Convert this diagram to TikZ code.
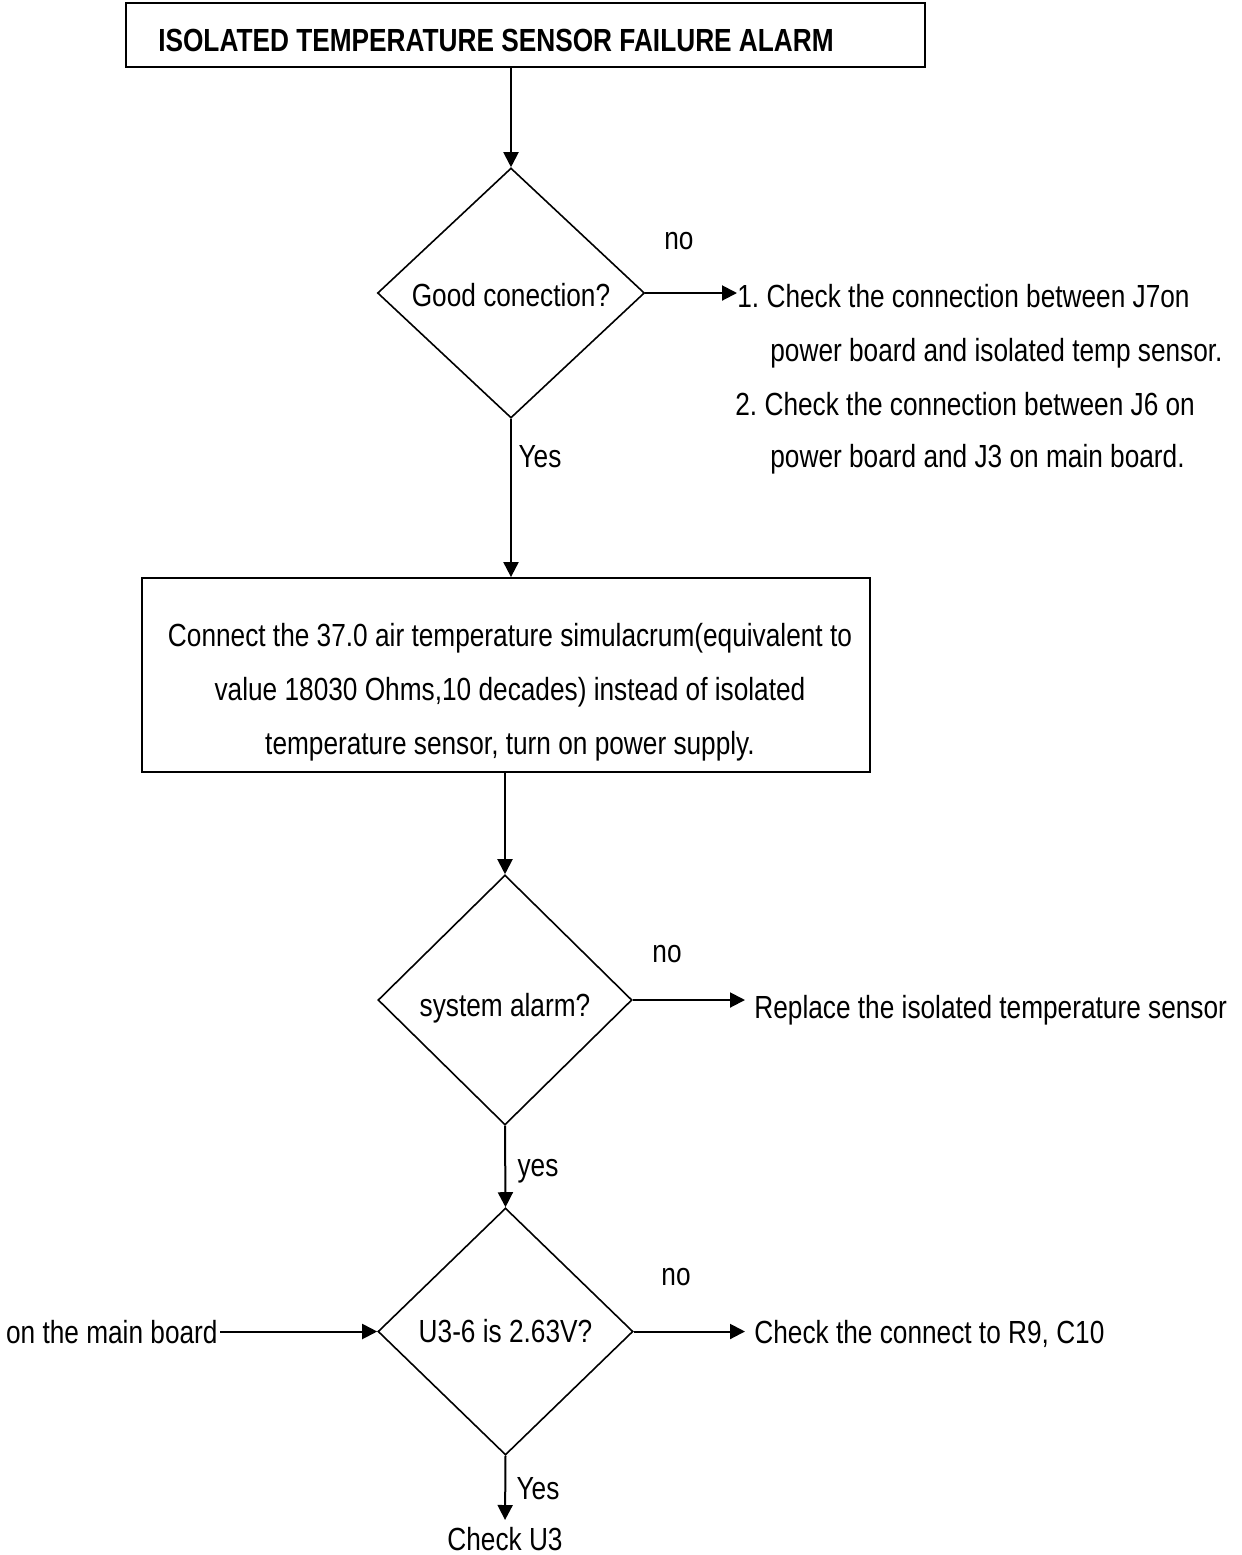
\documentclass[tikz,border=0pt]{standalone}
\usepackage{fontspec}
\setmainfont{Liberation Sans}[FakeStretch=0.82]
\usetikzlibrary{shapes.geometric,arrows.meta}
\frenchspacing
\begin{document}
\begin{tikzpicture}[x=0.5pt,y=-0.5pt,
  every node/.style={font=\fontsize{16}{27}\selectfont},
  arr/.style={line width=1pt,-{Triangle[length=7.5pt,width=7.5pt]}},
  boxstyle/.style={draw,line width=0.9pt,rectangle,inner sep=0pt},
  decision/.style={draw,line width=0.8pt,diamond,inner sep=0pt},
  lbl/.style={inner sep=0pt,anchor=base}]
\useasboundingbox (0,0) rectangle (1242,1555);
\fill[white] (0,0) rectangle (1242,1555);

% title
\node[boxstyle,minimum width=399.5pt,minimum height=32pt] (title) at (525.5,35) {};
\node[inner sep=0pt] (titletext) at (496,40) {\bfseries ISOLATED TEMPERATURE SENSOR FAILURE ALARM};

% decision 1
\node[decision,minimum width=133.5pt,minimum height=125pt,text height=14pt] (d1) at (511,293) {Good conection?};
\node[lbl] (no1) at (679,249) {no};
\node[lbl,anchor=base west] (c1) at (737,307) {1. Check the connection between J7on};
\node[lbl,anchor=base west] (c2) at (770,361) {power board and isolated temp sensor.};
\node[lbl,anchor=base west] (c3) at (735,415) {2. Check the connection between J6 on};
\node[lbl,anchor=base west] (c4) at (770,467) {power board and J3 on main board.};
\node[lbl] (yes1) at (540,467) {Yes};

% process box
\node[boxstyle,minimum width=364pt,minimum height=97pt] (b2) at (506,675) {};
\node[inner sep=0pt,align=center] (b2t) at (510,692) {Connect the 37.0 air temperature simulacrum(equivalent to\\
value 18030 Ohms,10 decades) instead of isolated\\
temperature sensor, turn on power supply.};

% decision 2
\node[decision,minimum width=127pt,minimum height=125pt,text height=20pt] (d2) at (505,1000) {system alarm?};
\node[lbl] (no2) at (667,962) {no};
\node[lbl,anchor=base west,inner sep=4.5pt] (r2) at (745,1018) {Replace the isolated temperature sensor};
\node[lbl] (yes2) at (538,1176) {yes};

% decision 3
\node[decision,minimum width=127.5pt,minimum height=123.5pt] (d3) at (505.5,1331.5) {U3-6 is 2.63V?};
\node[lbl] (no3) at (676,1285) {no};
\node[lbl,anchor=base west,inner sep=4.5pt] (r3) at (745,1343) {Check the connect to R9, C10};
\node[lbl,anchor=base east,inner sep=1pt] (lm) at (220,1343) {on the main board};
\node[lbl] (yes3) at (538,1499) {Yes};
\node[anchor=north,inner sep=0pt] (u3) at (505,1527) {Check U3};

% connectors
\draw[arr] (title.south -| d1.north) -- (d1.north);
\draw[arr] (d1.east) -- (d1.east -| c1.west);
\draw[arr] (d1.south) -- (d1.south |- b2.north);
\draw[arr] (b2.south -| d2.north) -- (d2.north);
\draw[arr] (d2.east) -- (d2.east -| r2.west);
\draw[arr] (d2.south) -- (d3.north);
\draw[arr] (d3.east) -- (d3.east -| r3.west);
\draw[arr] (lm.east |- d3.west) -- (d3.west);
\draw[arr,shorten >=3.5pt] (d3.south) -- (u3.north);
\end{tikzpicture}
\end{document}
